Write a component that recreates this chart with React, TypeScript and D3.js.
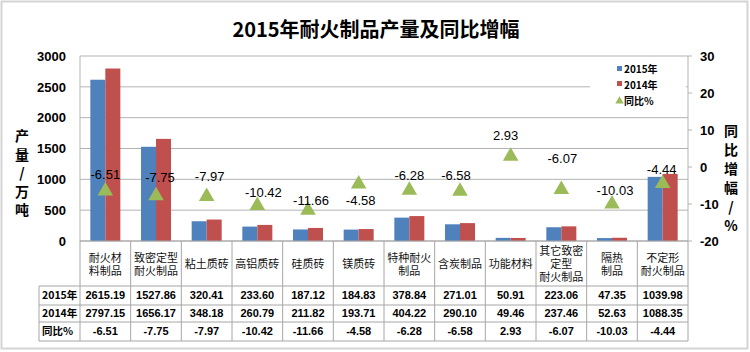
import React from 'react';
import * as d3 from 'd3';

// chart data
const categories = ['耐火材\n料制品', '致密定型\n耐火制品', '粘土质砖', '高铝质砖', '硅质砖', '镁质砖', '特种耐火\n制品', '含炭制品', '功能材料', '其它致密\n定型\n耐火制品', '隔热\n制品', '不定形\n耐火制品'];
const output2015 = [2615.19, 1527.86, 320.41, 233.6, 187.12, 184.83, 378.84, 271.01, 50.91, 223.06, 47.35, 1039.98];
const output2014 = [2797.15, 1656.17, 348.18, 260.79, 211.82, 193.71, 404.22, 290.1, 49.46, 237.46, 52.63, 1088.35];
const yoy = [-6.51, -7.75, -7.97, -10.42, -11.66, -4.58, -6.28, -6.58, 2.93, -6.07, -10.03, -4.44];
const leftTicks = [0, 500, 1000, 1500, 2000, 2500, 3000];
const rightTicks = [-20, -10, 0, 10, 20, 30];
const seriesNames = ['2015年', '2014年', '同比%'];

// label nudges (px), the labels in the original were dragged by hand
const labelDx = [0, 4, 3, 6, 3, 2, 0, -4, -5, 1, 3, -1];
const labelDy = [-17, -18, -20, -13, -10, 16, -15, -16, -21, -31, -14, -14];

const W = 750;
const H = 352;
const plot = { left: 80, right: 688, top: 56, bottom: 241 };
const rowY = [241, 286, 305, 322, 341];

const blue = '#4F81BD';
const red = '#C0504D';
const green = '#9BBB59';
const grid = '#b3b3b3';
const tableLine = '#a6a6a6';
const arial = 'Arial, "Liberation Sans", sans-serif';
const cjk = '"Noto Sans CJK SC", sans-serif';

export default function App() {
  const x = d3.scaleBand<number>().domain(d3.range(categories.length)).range([plot.left, plot.right]);
  const yL = d3.scaleLinear().domain([0, 3000]).range([plot.bottom, plot.top]);
  const yR = d3.scaleLinear().domain([-20, 30]).range([plot.bottom, plot.top]);
  const bw = 15;
  const tri = d3.symbol().type(d3.symbolTriangle).size(105)() as string;
  const cx = (i: number) => (x(i) as number) + x.bandwidth() / 2;

  const rows = [
    { name: seriesNames[0], vals: output2015 },
    { name: seriesNames[1], vals: output2014 },
    { name: seriesNames[2], vals: yoy },
  ];

  return (
    <svg width={W} height={H} style={{ position: 'absolute', left: 0, top: 0, background: '#fff' }}>
      <rect x={1.5} y={1.5} width={W - 4} height={H - 5} fill="#fff" stroke="#d4d4d4" strokeWidth={2} />

      <text x={376} y={37} textAnchor="middle" fontFamily={cjk} fontWeight="bold" fontSize={20}>
        2015年耐火制品产量及同比增幅
      </text>

      {/* gridlines */}
      {leftTicks.map((t) => (
        <line key={'g' + t} x1={plot.left} x2={plot.right} y1={yL(t)} y2={yL(t)} stroke={grid} />
      ))}
      <line x1={plot.left} x2={plot.left} y1={plot.top} y2={plot.bottom} stroke={grid} />
      <line x1={plot.right} x2={plot.right} y1={plot.top} y2={plot.bottom} stroke={grid} />

      {/* left axis */}
      {leftTicks.map((t) => (
        <text key={'l' + t} x={66} y={yL(t)} dy="0.36em" textAnchor="end" fontFamily={arial} fontWeight="bold" fontSize={13}>
          {t}
        </text>
      ))}
      {['产', '量', '/', '万', '吨'].map((c, i) => (
        <text key={'lt' + i} x={22} y={136 + i * 18.5} dy="0.36em" textAnchor="middle" fontFamily={cjk} fontWeight="bold" fontSize={14}>
          {c}
        </text>
      ))}

      {/* right axis */}
      {rightTicks.map((t) => (
        <g key={'r' + t}>
          <line x1={plot.right} x2={plot.right + 4} y1={yR(t)} y2={yR(t)} stroke={grid} />
          <text x={700} y={yR(t)} dy="0.36em" fontFamily={arial} fontWeight="bold" fontSize={13}>
            {t}
          </text>
        </g>
      ))}
      {['同', '比', '增', '幅', '/', '%'].map((c, i) => (
        <text key={'rt' + i} x={731} y={131 + i * 19} dy="0.36em" textAnchor="middle" fontFamily={cjk} fontWeight="bold" fontSize={14}>
          {c}
        </text>
      ))}

      {/* bars */}
      {output2015.map((v, i) => (
        <rect key={'b' + i} x={cx(i) - bw} y={yL(v)} width={bw} height={yL(0) - yL(v)} fill={blue} />
      ))}
      {output2014.map((v, i) => (
        <rect key={'c' + i} x={cx(i)} y={yL(v)} width={bw} height={yL(0) - yL(v)} fill={red} />
      ))}

      {/* yoy markers + labels */}
      {yoy.map((v, i) => (
        <g key={'m' + i}>
          <path d={tri} transform={`translate(${cx(i)},${yR(v)})`} fill={green} />
          <text x={cx(i) + labelDx[i]} y={yR(v) + labelDy[i]} dy="0.36em" textAnchor="middle" fontFamily={arial} fontSize={13} fill="#000">
            {v.toFixed(2)}
          </text>
        </g>
      ))}

      {/* legend */}
      <rect x={590} y={60} width={96} height={48} fill="#fff" />
      <rect x={617} y={66} width={5} height={5} fill={blue} />
      <rect x={617} y={81} width={5} height={5} fill={red} />
      <path d={d3.symbol().type(d3.symbolTriangle).size(30)() as string} transform="translate(619.5,101)" fill={green} />
      {seriesNames.map((n, i) => (
        <text key={'lg' + i} x={624} y={69 + i * 16} dy="0.36em" fontFamily={cjk} fontWeight="bold" fontSize={10}>
          {n}
        </text>
      ))}

      {/* data table */}
      <line x1={plot.left} x2={plot.right} y1={rowY[0]} y2={rowY[0]} stroke={tableLine} />
      {rowY.slice(1).map((y) => (
        <line key={'h' + y} x1={39} x2={plot.right} y1={y} y2={y} stroke={tableLine} />
      ))}
      <line x1={39} x2={39} y1={rowY[1]} y2={rowY[4]} stroke={tableLine} />
      {d3.range(categories.length + 1).map((i) => {
        const xx = i < categories.length ? (x(i) as number) : plot.right;
        return <line key={'v' + i} x1={xx} x2={xx} y1={rowY[0]} y2={rowY[4]} stroke={tableLine} />;
      })}
      {categories.map((c, i) => {
        const lines = c.split('\n');
        const mid = (rowY[0] + rowY[1]) / 2 + 1;
        return lines.map((ln, j) => (
          <text key={'cat' + i + j} x={cx(i)} y={mid + (j - (lines.length - 1) / 2) * 13} dy="0.36em" textAnchor="middle" fontFamily={cjk} fontSize={11} fill="#111">
            {ln}
          </text>
        ));
      })}
      {rows.map((r, k) => {
        const ym = (rowY[k + 1] + rowY[k + 2]) / 2;
        return (
          <g key={'row' + k}>
            <text x={42} y={ym} dy="0.36em" fontFamily={cjk} fontWeight="bold" fontSize={10.5}>
              {r.name}
            </text>
            {r.vals.map((v, i) => (
              <text key={i} x={cx(i)} y={ym} dy="0.36em" textAnchor="middle" fontFamily={arial} fontWeight="bold" fontSize={11}>
                {v.toFixed(2)}
              </text>
            ))}
          </g>
        );
      })}
    </svg>
  );
}
